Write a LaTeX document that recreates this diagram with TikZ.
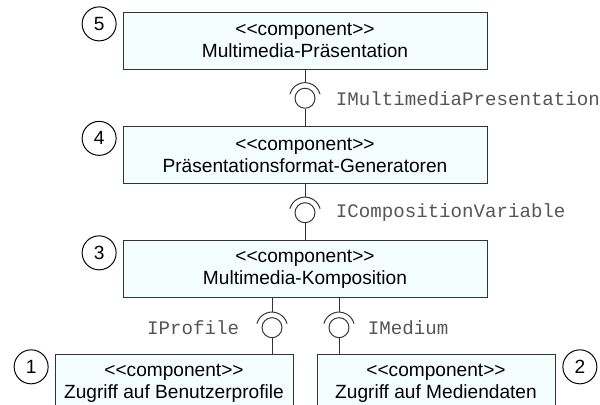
\documentclass[tikz,border=0pt]{standalone}
\usepackage{fontspec}
\setmainfont{Liberation Sans}
\setmonofont{Liberation Mono}
\usepackage{tikz}
\usetikzlibrary{positioning}

\definecolor{boxfill}{HTML}{F4FEFE}
\definecolor{linegray}{HTML}{333333}
\definecolor{labelgray}{HTML}{555555}

% stereotype line + name (kern keeps << >> from turning into guillemets)
\newcommand{\comptext}[1]{<\kern0pt<component>\kern0pt>\\#1}

\begin{document}
\begin{tikzpicture}[-,node distance=1.4125cm,line width=0.7pt,
			comp node/.style={rectangle,draw=linegray,fill=boxfill,align=center,
				minimum width=9.1cm,minimum height=1.425cm,inner sep=0pt,
				font=\fontsize{13.6}{15.6}\selectfont},
			num node/.style={circle,draw,minimum size=0.85cm,inner sep=0pt,
				font=\fontsize{13.6}{15.6}\selectfont},
			ball node/.style={circle,draw=linegray,minimum size=0.5cm,inner sep=0pt},
			iface/.style={text=labelgray,inner sep=0pt,
				font=\ttfamily\fontsize{13.6}{15.6}\selectfont}]
			
			\clip (0,0) rectangle (15,-10.125);
			
			\node[comp node] (K5) at (7.625,-1.0125) {\comptext{Multimedia-Präsentation}};
			\node[comp node] (K4) [below=of K5] {\comptext{Präsentationsformat-Generatoren}};
			\node[comp node] (K3) [below=of K4] {\comptext{Multimedia-Komposition}};
			\node[comp node,minimum width=5.95cm,anchor=north] (K1)
				at ([xshift=-3.275cm,yshift=-1.4cm]K3.south) {\comptext{Zugriff auf Benutzerprofile}};
			\node[comp node,minimum width=5.95cm,anchor=north] (K2)
				at ([xshift=3.275cm,yshift=-1.4cm]K3.south) {\comptext{Zugriff auf Mediendaten}};
			
			% layer numbers
			\node[num node,anchor=north east] (N5) at ([xshift=-0.275cm]K5.north west) {5};
			\node[num node,anchor=north east] (N4) at ([xshift=-0.275cm]K4.north west) {4};
			\node[num node,anchor=north east] (N3) at ([xshift=-0.275cm]K3.north west) {3};
			\node[num node,anchor=north east] (N1) at ([xshift=-0.275cm]K1.north west) {1};
			\node[num node,anchor=north west] (N2) at ([xshift=0.3cm]K2.north east) {2};
			
			% provided interfaces (balls)
			\node[ball node] (S54) [below=0.45625cm of K5] {};
			\node[ball node] (S43) [below=0.45625cm of K4] {};
			\node[ball node] (S31) at ([xshift=-0.825cm,yshift=-0.73cm]K3.south) {};
			\node[ball node] (S32) at ([xshift=0.85cm,yshift=-0.73cm]K3.south) {};
			
			% required interfaces (sockets)
			\foreach \s in {S54,S43,S31,S32}
				\draw[linegray] ([shift={(165:0.39cm)}]\s.center) arc[start angle=165,end angle=15,radius=0.39cm];
			
			\path[draw=linegray]
			(K5.south) edge ([yshift=0.14cm]S54.north)
			(S54) edge (K4)
			(K4.south) edge ([yshift=0.14cm]S43.north)
			(S43) edge (K3)
			(S31.north |- K3.south) edge ([yshift=0.14cm]S31.north)
			(S31.south) edge (S31.south |- K1.north)
			(S32.north |- K3.south) edge ([yshift=0.14cm]S32.north)
			(S32.south) edge (S32.south |- K2.north);
			
			\node[iface,right=0.5cm of S54] (L54) {IMultimediaPresentation};
			\node[iface,right=0.5cm of S43] (L43) {ICompositionVariable};
			\node[iface,left=0.55cm of S31] (L31) {IProfile};
			\node[iface,right=0.45cm of S32] (L32) {IMedium};
		\end{tikzpicture}
\end{document}
